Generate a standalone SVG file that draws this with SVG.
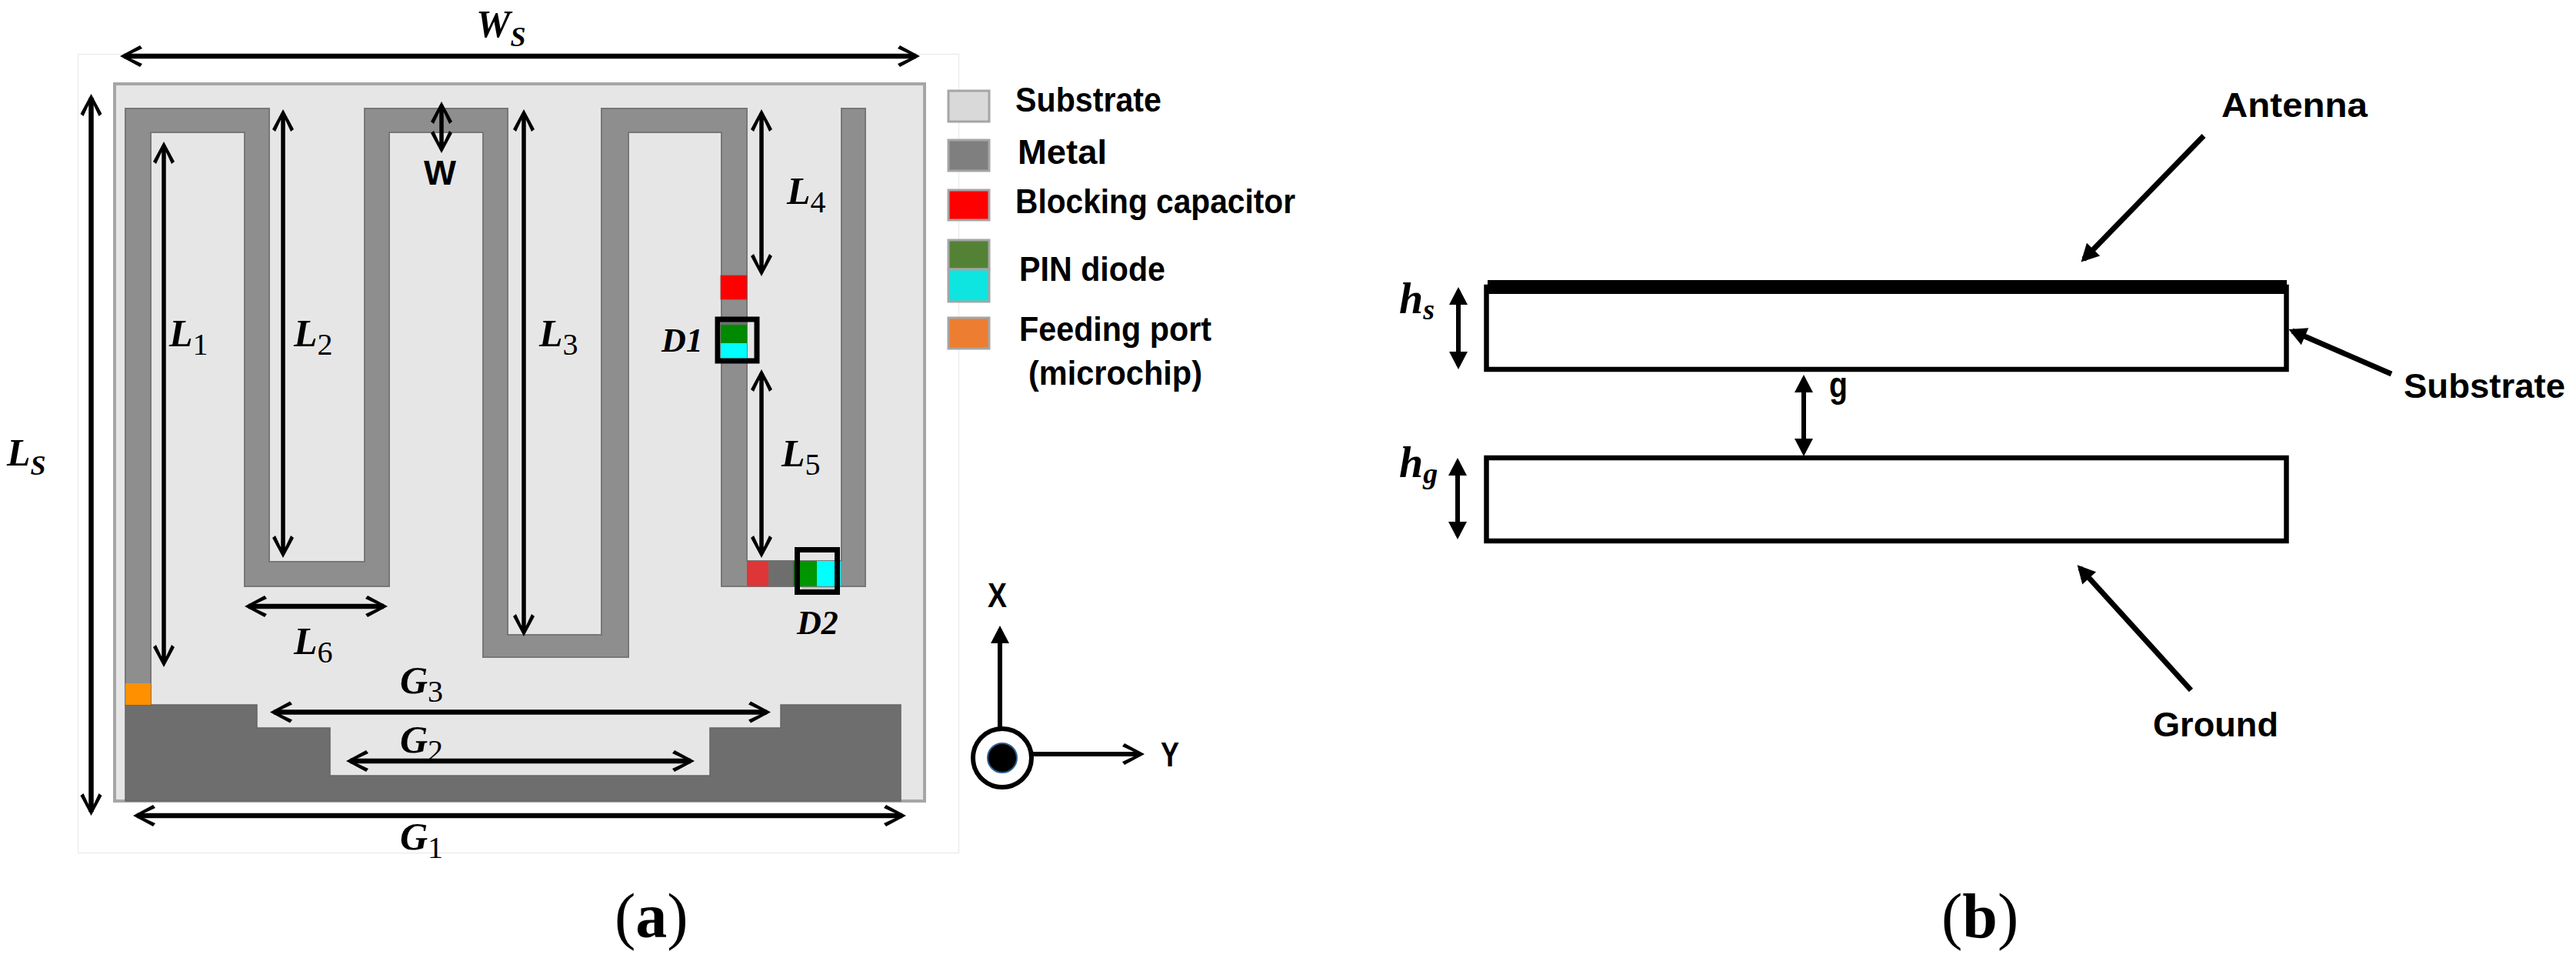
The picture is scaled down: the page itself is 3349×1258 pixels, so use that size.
<svg xmlns="http://www.w3.org/2000/svg" width="3349" height="1258" viewBox="0 0 3349 1258">
<style>
.m{font-family:"Liberation Serif",serif;font-style:italic;font-weight:bold;font-size:50px;fill:#000}
.s{font-size:40px;font-style:normal;font-weight:normal}
.si{font-size:36px}
.t{font-family:"Liberation Sans",Arial,sans-serif;font-weight:bold;font-size:45px;fill:#000}
.cap{font-family:"Liberation Serif",serif;font-size:82px;fill:#000}
.cap tspan{font-weight:bold}
.d{font-family:"Liberation Serif",serif;font-style:italic;font-weight:bold;font-size:44px;fill:#000}
.c{stroke:#000;stroke-width:5.500;fill:none;marker-start:url(#o);marker-end:url(#o)}
.c2{stroke:#000;stroke-width:6.500;fill:none;marker-start:url(#o);marker-end:url(#o)}
.f{stroke:#000;stroke-width:6;fill:none;marker-start:url(#k);marker-end:url(#k)}
.p{stroke:#000;stroke-width:7;fill:none;marker-end:url(#k)}
.leg{stroke:#a5a5a5;stroke-width:3}
.box{fill:none;stroke:#000;stroke-width:7}
.sect{fill:none;stroke:#000;stroke-width:6.500}
</style>
<defs>
<marker id="o" markerUnits="userSpaceOnUse" orient="auto-start-reverse" markerWidth="60" markerHeight="60" refX="30" refY="30" viewBox="0 0 60 60" overflow="visible"><polygon points="35,30 9,16 6,20 21,27 21,33 6,40 9,44"/></marker>
<marker id="k" markerUnits="userSpaceOnUse" orient="auto-start-reverse" markerWidth="60" markerHeight="60" refX="30" refY="30" viewBox="0 0 60 60" overflow="visible"><polygon points="35,30 12,18 12,42"/></marker>
</defs>
<rect width="3349" height="1258" fill="#fff"/>
<g id="panel-a">
<rect x="101.500" y="70.500" width="1145" height="1038" fill="#fff" stroke="#ececec" stroke-width="1.500"/>
<rect id="substrate" x="149" y="109" width="1053" height="932" fill="#e6e6e6" stroke="#a6a6a6" stroke-width="4"/>
<path id="metal" d="M163,916 L163,141 L350,141 L350,730 L474,730 L474,141 L660,141 L660,825 L782,825 L782,141 L971,141 L971,729 L1094,729 L1094,141 L1125,141 L1125,762 L938,762 L938,172 L817,172 L817,854 L628,854 L628,172 L506,172 L506,762 L318,762 L318,172 L196,172 L196,916 Z" fill="#8e8e8e" stroke="#777" stroke-width="2"/>
<path id="ground" d="M163,916 L334,916 L334,946 L429,946 L429,1008 L923,1008 L923,946 L1015,946 L1015,916 L1171,916 L1171,1041 L163,1041 Z" fill="#6e6e6e" stroke="#666" stroke-width="1.500"/>
<rect id="feed" x="163" y="888" width="33" height="28" fill="#ff9000"/>
<g id="cap1"><rect x="937" y="358" width="34" height="31" fill="#ff0000" stroke="#a04040" stroke-width="1"/></g>
<g id="diode1"><rect x="937" y="418" width="34" height="4" fill="#707070"/><rect x="937" y="422" width="34" height="24" fill="#008a00"/><rect x="937" y="446" width="34" height="20" fill="#00ffff"/><rect x="933" y="415" width="51" height="54" class="box"/></g>
<g id="cap2"><rect x="971" y="729" width="28" height="33" fill="#de3636"/><rect x="999" y="729" width="32" height="33" fill="#6e6e6e"/></g>
<g id="diode2"><rect x="1042" y="763" width="46" height="6" fill="#c4c4c4"/><rect x="1031" y="729" width="31" height="33" fill="#009600"/><rect x="1062" y="729" width="31" height="33" fill="#00ffff"/><rect x="1036.500" y="714.500" width="52" height="55" class="box"/></g>
</g>
<g id="connectors">
<line class="c2" x1="161" y1="73" x2="1191" y2="73"/>
<line class="c2" x1="118.500" y1="127" x2="118.500" y2="1055"/>
<line class="c" x1="213" y1="189" x2="213" y2="862"/>
<line class="c" x1="368" y1="147" x2="368" y2="720"/>
<line class="c" x1="574" y1="137" x2="574" y2="194"/>
<line class="c" x1="681" y1="147" x2="681" y2="822"/>
<line class="c" x1="990" y1="147" x2="990" y2="354"/>
<line class="c" x1="990" y1="485" x2="990" y2="720"/>
<line class="c2" x1="323" y1="788" x2="499" y2="788"/>
<line class="c2" x1="356" y1="925.500" x2="997" y2="925.500"/>
<line class="c2" x1="455" y1="989" x2="898" y2="989"/>
<line class="c2" x1="178" y1="1060" x2="1173" y2="1060"/>
<line x1="1300" y1="947" x2="1300" y2="818" stroke="#000" stroke-width="6" marker-end="url(#k)"/>
<line x1="1343" y1="980" x2="1483" y2="980" stroke="#000" stroke-width="6" marker-end="url(#o)"/>
<line class="f" x1="1896" y1="378" x2="1896" y2="475"/>
<line class="f" x1="1895" y1="600" x2="1895" y2="696"/>
<line class="f" x1="2345" y1="492" x2="2345" y2="588"/>
<line class="p" x1="2865" y1="176.500" x2="2709" y2="337"/>
<line class="p" x1="3109" y1="486" x2="2980" y2="430"/>
<line class="p" x1="2848.500" y1="897" x2="2704" y2="738"/>
</g>
<g id="labels-a">
<text class="m" x="619" y="48">W<tspan class="si" dy="12">S</tspan></text>
<text class="m" x="9" y="605">L<tspan class="si" dy="12">S</tspan></text>
<text class="t" x="551" y="240" textLength="42" lengthAdjust="spacingAndGlyphs">W</text>
<text class="m" x="220" y="450">L<tspan class="s" dy="11">1</tspan></text>
<text class="m" x="382" y="450">L<tspan class="s" dy="11">2</tspan></text>
<text class="m" x="701" y="450">L<tspan class="s" dy="11">3</tspan></text>
<text class="m" x="1023" y="265">L<tspan class="s" dy="11">4</tspan></text>
<text class="m" x="1016" y="606">L<tspan class="s" dy="11">5</tspan></text>
<text class="m" x="382" y="850">L<tspan class="s" dy="11">6</tspan></text>
<text class="m" x="520" y="901">G<tspan class="s" dy="11">3</tspan></text>
<text class="m" x="520" y="978">G<tspan class="s" dy="11">2</tspan></text>
<text class="m" x="520" y="1104">G<tspan class="s" dy="11">1</tspan></text>
<text class="d" x="860" y="457">D1</text>
<text class="d" x="1036" y="824">D2</text>
<text class="cap" x="799" y="1218">(<tspan>a</tspan>)</text>
</g>
<g id="legend">
<g id="leg-substrate"><rect class="leg" x="1233" y="118" width="53" height="40" fill="#d9d9d9"/><text class="t" x="1320" y="145" textLength="190" lengthAdjust="spacingAndGlyphs">Substrate</text></g>
<g id="leg-metal"><rect class="leg" x="1233" y="182" width="53" height="40" fill="#7f7f7f"/><text class="t" x="1323" y="213" textLength="116" lengthAdjust="spacingAndGlyphs">Metal</text></g>
<g id="leg-cap"><rect class="leg" x="1233" y="247" width="53" height="39" fill="#ff0000"/><text class="t" x="1320" y="277" textLength="364" lengthAdjust="spacingAndGlyphs">Blocking capacitor</text></g>
<g id="leg-diode"><rect class="leg" x="1233" y="312" width="53" height="38" fill="#548235"/><rect class="leg" x="1233" y="350" width="53" height="42" fill="#0ee5e0"/><text class="t" x="1325" y="365" textLength="190" lengthAdjust="spacingAndGlyphs">PIN diode</text></g>
<g id="leg-feed"><rect class="leg" x="1233" y="413" width="53" height="40" fill="#ed7d31"/><text class="t" x="1325" y="443" textLength="250" lengthAdjust="spacingAndGlyphs">Feeding port</text><text class="t" x="1337" y="500" textLength="226" lengthAdjust="spacingAndGlyphs">(microchip)</text></g>
</g>
<g id="axes">
<text class="t" x="1284" y="789" textLength="25" lengthAdjust="spacingAndGlyphs">X</text>
<text class="t" x="1509" y="996" textLength="24" lengthAdjust="spacingAndGlyphs">Y</text>
<circle cx="1303" cy="985" r="38" fill="#fff" stroke="#000" stroke-width="6"/>
<circle cx="1303" cy="985" r="19" fill="#000" stroke="#2f5f8f" stroke-width="2"/>
</g>
<g id="panel-b">
<rect id="antenna-bar" x="1934" y="364" width="1039" height="18" fill="#000"/>
<rect id="substrate-b" class="sect" x="1932.500" y="373" width="1040" height="107"/>
<rect id="ground-b" class="sect" x="1932.500" y="595" width="1040" height="108"/>
<text class="m" x="1819" y="407" style="font-size:56px">h<tspan class="si" style="font-size:38px" dy="8">s</tspan></text>
<text class="m" x="1819" y="620" style="font-size:56px">h<tspan class="si" style="font-size:38px" dy="8">g</tspan></text>
<text class="t" x="2378" y="516" style="font-size:46px" textLength="24" lengthAdjust="spacingAndGlyphs">g</text>
<text class="t" x="2888" y="152" textLength="190" lengthAdjust="spacingAndGlyphs">Antenna</text>
<text class="t" x="3125" y="517" textLength="210" lengthAdjust="spacingAndGlyphs">Substrate</text>
<text class="t" x="2799" y="957" textLength="163" lengthAdjust="spacingAndGlyphs">Ground</text>
<text class="cap" x="2524" y="1218">(<tspan>b</tspan>)</text>
</g>
</svg>
